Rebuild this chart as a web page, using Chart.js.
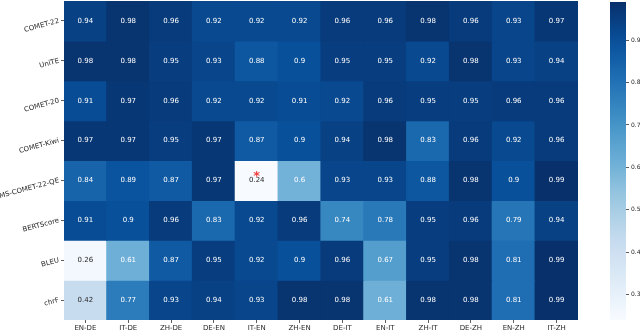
<!DOCTYPE html>
<html>
<head>
<meta charset="utf-8">
<script src="https://cdn.jsdelivr.net/npm/chart.js@4.4.1/dist/chart.umd.min.js"></script>
<style>
  html, body { margin: 0; padding: 0; background: #ffffff; }
  #wrap { position: relative; width: 640px; height: 330px; }
  #main { position: absolute; left: 0; top: 0; }
  #cbar { position: absolute; left: 600px; top: 0; }
</style>
</head>
<body>
<div id="wrap">
  <canvas id="main" width="600" height="330"></canvas>
  <canvas id="cbar" width="40" height="330"></canvas>
</div>
<script>
const columns = ["EN-DE","IT-DE","ZH-DE","DE-EN","IT-EN","ZH-EN","DE-IT","EN-IT","ZH-IT","DE-ZH","EN-ZH","IT-ZH"];
const metrics = ["COMET-22","UniTE","COMET-20","COMET-Kiwi","MS-COMET-22-QE","BERTScore","BLEU","chrF"];

const comet22    = [0.94,0.98,0.96,0.92,0.92,0.92,0.96,0.96,0.98,0.96,0.93,0.97];
const unite      = [0.98,0.98,0.95,0.93,0.88,0.90,0.95,0.95,0.92,0.98,0.93,0.94];
const comet20    = [0.91,0.97,0.96,0.92,0.92,0.91,0.92,0.96,0.95,0.95,0.96,0.96];
const cometKiwi  = [0.97,0.97,0.95,0.97,0.87,0.90,0.94,0.98,0.83,0.96,0.92,0.96];
const msCometQE  = [0.84,0.89,0.87,0.97,0.24,0.60,0.93,0.93,0.88,0.98,0.90,0.99];
const bertScore  = [0.91,0.90,0.96,0.83,0.92,0.96,0.74,0.78,0.95,0.96,0.79,0.94];
const bleu       = [0.26,0.61,0.87,0.95,0.92,0.90,0.96,0.67,0.95,0.98,0.81,0.99];
const chrf       = [0.42,0.77,0.93,0.94,0.93,0.98,0.98,0.61,0.98,0.98,0.81,0.99];
const rowsValues = [comet22, unite, comet20, cometKiwi, msCometQE, bertScore, bleu, chrf];

const colorbarTicks = [0.3,0.4,0.5,0.6,0.7,0.8,0.9];
const vMin = 0.24, vMax = 0.99;
const markedCell = { row: 4, col: 4 }; // red asterisk (MS-COMET-22-QE, IT-EN)

// matplotlib "Blues"
const blues = [
  [247,251,255],[222,235,247],[198,219,239],[158,202,225],
  [107,174,214],[66,146,198],[33,113,181],[8,81,156],[8,48,107]
];
function bluesRGB(t) {
  t = Math.max(0, Math.min(1, t));
  const p = t * (blues.length - 1);
  const i = Math.min(Math.floor(p), blues.length - 2);
  const f = p - i;
  return blues[i].map((c, k) => Math.round(c + (blues[i + 1][k] - c) * f));
}
function colorFor(v) {
  const c = bluesRGB((v - vMin) / (vMax - vMin));
  return `rgb(${c[0]},${c[1]},${c[2]})`;
}
function textColorFor(v) {
  const c = bluesRGB((v - vMin) / (vMax - vMin)).map(x => {
    x /= 255;
    return x <= 0.03928 ? x / 12.92 : Math.pow((x + 0.055) / 1.055, 2.4);
  });
  const lum = 0.2126 * c[0] + 0.7152 * c[1] + 0.0722 * c[2];
  return lum > 0.408 ? '#262626' : '#ffffff';
}

const FONT = 'DejaVu Sans';

const datasets = metrics.map((m, r) => ({
  label: m,
  data: columns.map((c, j) => ({ x: c, y: [r - 0.5, r + 0.5], v: rowsValues[r][j] })),
  backgroundColor: rowsValues[r].map(colorFor),
  borderColor: rowsValues[r].map(colorFor),
  borderWidth: 0,
  inflateAmount: 0.6,
  grouped: false,
  barPercentage: 1.0,
  categoryPercentage: 1.0
}));

const annotPlugin = {
  id: 'annot',
  afterDatasetsDraw(chart) {
    const ctx = chart.ctx;
    ctx.save();
    ctx.font = `7px "${FONT}"`;
    ctx.textAlign = 'center';
    ctx.textBaseline = 'middle';
    chart.data.datasets.forEach((ds, r) => {
      const meta = chart.getDatasetMeta(r);
      meta.data.forEach((bar, j) => {
        const v = ds.data[j].v;
        const y = (bar.y + bar.base) / 2;
        ctx.fillStyle = textColorFor(v);
        ctx.fillText(String(v), bar.x, y);
        if (r === markedCell.row && j === markedCell.col) {
          ctx.save();
          ctx.fillStyle = '#f03c3c';
          ctx.font = `bold 13px "${FONT}"`;
          ctx.fillText('*', bar.x, y - 4);
          ctx.restore();
        }
      });
    });
    ctx.restore();
  }
};

new Chart(document.getElementById('main'), {
  type: 'bar',
  data: { labels: columns, datasets },
  options: {
    responsive: false,
    animation: false,
    events: [],
    layout: { padding: { left: 0, right: 22, top: 1, bottom: 0 } },
    plugins: { legend: { display: false }, tooltip: { enabled: false } },
    scales: {
      x: {
        type: 'category',
        offset: true,
        grid: { display: true, drawOnChartArea: false, offset: false, tickLength: 3, color: '#333', tickWidth: 0.8 },
        border: { display: false },
        ticks: { font: { family: FONT, size: 7 }, color: '#262626', padding: 1, maxRotation: 0, minRotation: 0 },
        afterFit(s) { s.height = 10; s.paddingLeft = 0; s.paddingRight = 0; }
      },
      y: {
        type: 'linear',
        reverse: true,
        min: -0.5,
        max: 7.5,
        afterBuildTicks(s) { s.ticks = metrics.map((m, i) => ({ value: i })); },
        grid: { display: true, drawOnChartArea: false, tickLength: 3, color: '#333', tickWidth: 0.8 },
        border: { display: false },
        ticks: {
          font: { family: FONT, size: 7 },
          color: '#262626',
          padding: 2,
          minRotation: 15,
          maxRotation: 15,
          autoSkip: false,
          callback: (v) => metrics[v] ?? ''
        },
        afterFit(s) { s.width = 64; s.paddingTop = 0; s.paddingBottom = 0; }
      }
    }
  },
  plugins: [annotPlugin]
});

// Colorbar
new Chart(document.getElementById('cbar'), {
  type: 'bar',
  data: {
    labels: ['cb'],
    datasets: [{
      data: [[vMin, vMax]],
      borderWidth: 0,
      barPercentage: 1.0,
      categoryPercentage: 1.0,
      backgroundColor(ctx) {
        const chart = ctx.chart;
        const ys = chart.scales.y;
        if (!ys || !chart.chartArea) return colorFor(0.6);
        const y0 = ys.getPixelForValue(vMin), y1 = ys.getPixelForValue(vMax);
        const g = chart.ctx.createLinearGradient(0, y0, 0, y1);
        for (let k = 0; k <= 20; k++) {
          const t = k / 20;
          g.addColorStop(t, colorFor(vMin + (vMax - vMin) * t));
        }
        return g;
      }
    }]
  },
  options: {
    responsive: false,
    animation: false,
    events: [],
    layout: { padding: { left: 10, right: 0, top: 2, bottom: 10 } },
    plugins: { legend: { display: false }, tooltip: { enabled: false } },
    scales: {
      x: { display: false, offset: true },
      y: {
        position: 'right',
        min: vMin,
        max: vMax,
        afterBuildTicks(s) { s.ticks = colorbarTicks.map(v => ({ value: v })); },
        grid: { display: true, drawOnChartArea: false, tickLength: 3, color: '#333', tickWidth: 0.8 },
        border: { display: false },
        ticks: { font: { family: FONT, size: 6 }, color: '#262626', padding: 2, callback: v => v.toFixed(1) },
        afterFit(s) { s.width = 14; s.paddingTop = 0; s.paddingBottom = 0; }
      }
    }
  }
});
</script>
</body>
</html>
